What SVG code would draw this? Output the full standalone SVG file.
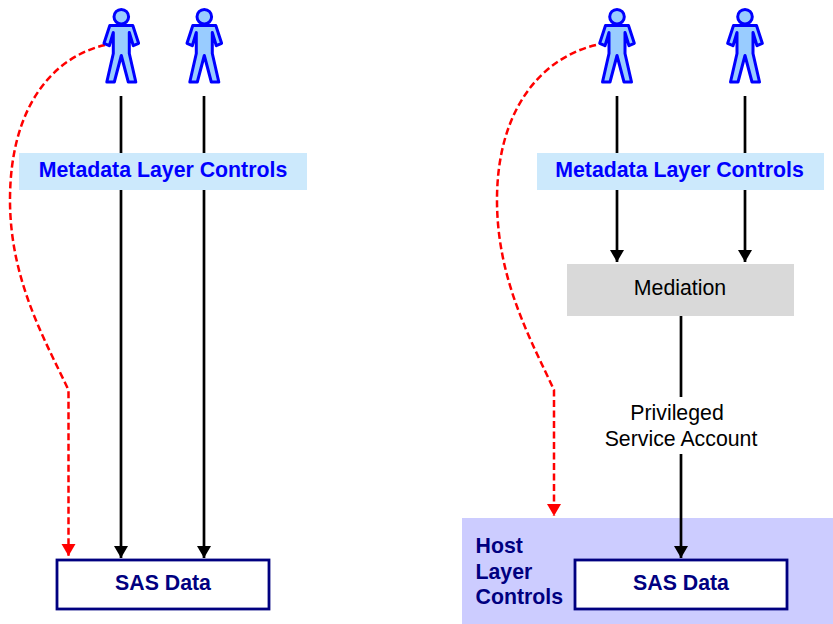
<svg xmlns="http://www.w3.org/2000/svg" xmlns:xlink="http://www.w3.org/1999/xlink" width="833" height="624" viewBox="0 0 833 624">
<style>
text{font-family:"Liberation Sans",Arial,sans-serif;text-anchor:middle}
.meta{font-size:21.3px;font-weight:bold;fill:#0000ff}
.sas{font-size:21.3px;font-weight:bold;fill:#000080}
.host{font-size:21.3px;font-weight:bold;fill:#000080;text-anchor:start}
.plain{font-size:21.3px;fill:#000}
.mbox{fill:#cce9fc}
.sbox{fill:#fff;stroke:#000080;stroke-width:2.8}
.wire{fill:none;stroke:#000;stroke-width:2.7}
.red{fill:none;stroke:#f00;stroke-width:2.5;stroke-dasharray:7 3.5}
.p{fill:#99ccff;stroke:#0000ff;stroke-width:3;stroke-linejoin:round}
</style>
<defs>
<marker id="ab" markerUnits="userSpaceOnUse" markerWidth="13" markerHeight="15" refX="12" refY="7" orient="auto"><path d="M0 0L12 7L0 14Z" fill="#000"/></marker>
<marker id="ar" markerUnits="userSpaceOnUse" markerWidth="13" markerHeight="15" refX="12" refY="7" orient="auto"><path d="M0 0L12 7L0 14Z" fill="#f00"/></marker>
<g id="person">
<circle class="p" cx="0" cy="16.700" r="7.300"/>
<path class="p" d="M-11.500 25.500H11.500L17.300 43.300L12 45.700L8 32.500V53.500L14.500 82H7L0 55.500L-7 82H-14.500L-8 53.500V32.500L-12 45.700L-17.300 43.300Z"/>
</g>
</defs>
<rect id="host-layer" x="462" y="518" width="371" height="106" fill="#ccccff"/>
<g id="connectors">
<path class="wire" d="M121 96V558" marker-end="url(#ab)"/>
<path class="wire" d="M204 96V558" marker-end="url(#ab)"/>
<path class="wire" d="M617 96V262" marker-end="url(#ab)"/>
<path class="wire" d="M745 96V262" marker-end="url(#ab)"/>
<path class="wire" d="M681 316V558" marker-end="url(#ab)"/>
<path class="red" d="M105 45C50 58 10 110 10 200C10 280 45 340 68.500 390V556" marker-end="url(#ar)"/>
<path class="red" d="M596 45C541 58 497 110 497 200C497 280 531 340 554 390V516" marker-end="url(#ar)"/>
</g>
<g id="people">
<use xlink:href="#person" href="#person" x="121.300"/>
<use xlink:href="#person" href="#person" x="204.300"/>
<use xlink:href="#person" href="#person" x="617"/>
<use xlink:href="#person" href="#person" x="745"/>
</g>
<g id="meta-left"><rect class="mbox" x="19" y="153" width="288" height="37"/><text class="meta" x="163" y="177">Metadata Layer Controls</text></g>
<g id="meta-right"><rect class="mbox" x="537" y="153" width="287" height="37"/><text class="meta" x="679.500" y="177">Metadata Layer Controls</text></g>
<g id="mediation"><rect x="567" y="264" width="227" height="52" fill="#d9d9d9"/><text class="plain" x="680" y="295">Mediation</text></g>
<g id="account"><rect x="600" y="397" width="162" height="57" fill="#fff"/><text class="plain" x="677" y="420">Privileged</text><text class="plain" x="681" y="446">Service Account</text></g>
<g id="sas-left"><rect class="sbox" x="57" y="560" width="212" height="49"/><text class="sas" x="163" y="590">SAS Data</text></g>
<g id="sas-right"><rect class="sbox" x="575" y="560" width="212" height="49"/><text class="sas" x="681" y="590">SAS Data</text></g>
<g id="host-label"><text class="host" x="475.500" y="553">Host</text><text class="host" x="475.500" y="579">Layer</text><text class="host" x="475.500" y="604">Controls</text></g>
</svg>
